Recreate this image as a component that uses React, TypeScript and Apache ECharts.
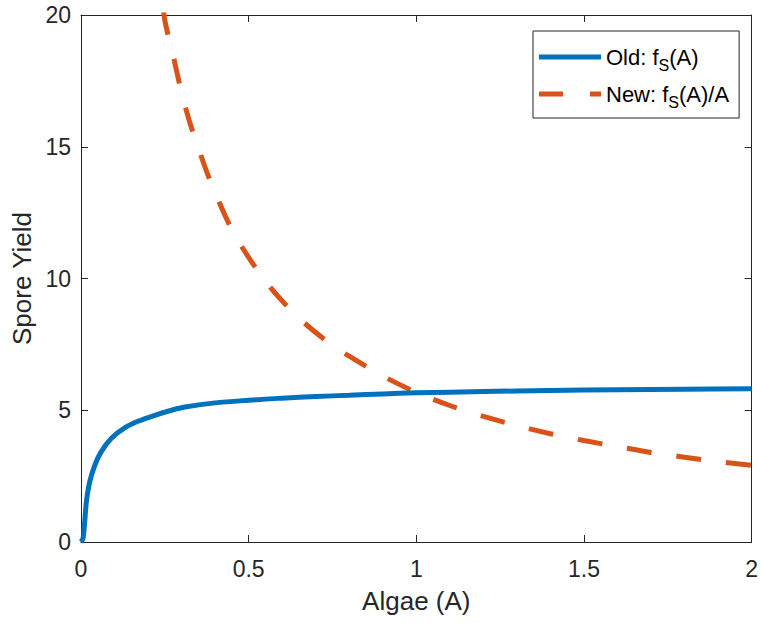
import React, { useEffect, useRef } from "react";
import * as echarts from "echarts";

const xTicks = [0, 0.5, 1, 1.5, 2];
const yTicks = [0, 5, 10, 15, 20];

// Old: f_S(A)
const oldX = [0, 0.006, 0.011, 0.016, 0.026, 0.041, 0.06, 0.09, 0.13, 0.17, 0.22, 0.27, 0.31, 0.4, 0.5, 0.6, 0.7, 0.8, 0.9, 1.0, 1.2, 1.4, 1.6, 1.8, 2.0];
const oldY = [0, 0.13, 0.76, 1.52, 2.28, 2.91, 3.42, 3.93, 4.33, 4.58, 4.81, 5.0, 5.12, 5.28, 5.38, 5.46, 5.52, 5.57, 5.62, 5.66, 5.71, 5.75, 5.78, 5.8, 5.82];

// New: f_S(A)/A
const newX = [0.24, 0.25, 0.275, 0.3, 0.325, 0.35, 0.375, 0.4, 0.45, 0.5, 0.55, 0.6, 0.65, 0.7, 0.75, 0.8, 0.9, 1.0, 1.1, 1.2, 1.3, 1.4, 1.5, 1.6, 1.7, 1.8, 1.9, 2.0];
const newY = [20.9, 19.8, 18.45, 17.05, 15.9, 14.95, 14.05, 13.25, 11.85, 10.8, 9.9, 9.15, 8.5, 7.95, 7.47, 7.05, 6.3, 5.68, 5.18, 4.77, 4.42, 4.11, 3.85, 3.62, 3.4, 3.22, 3.05, 2.91];

const seriesNames = ["Old: fS(A)", "New: fS(A)/A"];
const legendLabels: Record<string, string> = {
  "Old: fS(A)": "Old: f{sub|S}(A)",
  "New: fS(A)/A": "New: f{sub|S}(A)/A",
};

const BLUE = "#0072BD";
const RED = "#D95319";
const FONT = "Liberation Sans, Arial, Helvetica, sans-serif";
const AX = "#262626";

export default function App() {
  const ref = useRef<HTMLDivElement>(null);
  useEffect(() => {
    if (!ref.current) return;
    const chart = echarts.init(ref.current, undefined, { renderer: "svg" });
    const tickCommon = {
      show: true,
      inside: true,
      length: 7,
      lineStyle: { color: AX, width: 1 },
    };
    chart.setOption({
      animation: false,
      backgroundColor: "#fff",
      textStyle: { fontFamily: FONT },
      grid: { left: 81, top: 15, width: 676, height: 527, containLabel: false },
      legend: {
        orient: "vertical",
        left: 533,
        top: 31,
        padding: [15, 10, 8, 6],
        itemGap: 10,
        itemWidth: 62,
        itemHeight: 5,
        backgroundColor: "#fff",
        borderColor: AX,
        borderWidth: 1,
        borderRadius: 0,
        data: [
          { name: seriesNames[0], icon: "path://M0,0h62v5h-62z", itemStyle: { color: BLUE } },
          { name: seriesNames[1], icon: "path://M0,0h24v5h-24z M51,0h11v5h-11z", itemStyle: { color: RED } },
        ],
        formatter: (name: string) => legendLabels[name] || name,
        textStyle: {
          fontSize: 22,
          color: "#000",
          fontFamily: FONT,
          rich: {
            sub: { fontSize: 16, padding: [16, 0, 0, 0], fontFamily: FONT, color: "#000" },
          },
        },
      },
      xAxis: [
        {
          type: "value",
          min: xTicks[0],
          max: xTicks[xTicks.length - 1],
          interval: 0.5,
          name: "Algae (A)",
          nameLocation: "middle",
          nameGap: 46,
          nameTextStyle: { fontSize: 26, color: AX, fontFamily: FONT, verticalAlign: "top" },
          axisLine: { show: true, onZero: false, lineStyle: { color: AX, width: 1 } },
          axisTick: tickCommon,
          axisLabel: { fontSize: 23, color: AX, margin: 15, fontFamily: FONT },
          splitLine: { show: false },
        },
        {
          type: "value",
          position: "top",
          min: xTicks[0],
          max: xTicks[xTicks.length - 1],
          interval: 0.5,
          axisLine: { show: true, onZero: false, lineStyle: { color: AX, width: 1 } },
          axisTick: tickCommon,
          axisLabel: { show: false },
          splitLine: { show: false },
        },
      ],
      yAxis: [
        {
          type: "value",
          min: yTicks[0],
          max: yTicks[yTicks.length - 1],
          interval: 5,
          name: "Spore Yield",
          nameLocation: "middle",
          nameGap: 40,
          nameTextStyle: { fontSize: 26, color: AX, fontFamily: FONT },
          axisLine: { show: true, onZero: false, lineStyle: { color: AX, width: 1 } },
          axisTick: tickCommon,
          axisLabel: { fontSize: 23, color: AX, margin: 10, fontFamily: FONT },
          splitLine: { show: false },
        },
        {
          type: "value",
          position: "right",
          min: yTicks[0],
          max: yTicks[yTicks.length - 1],
          interval: 5,
          axisLine: { show: true, onZero: false, lineStyle: { color: AX, width: 1 } },
          axisTick: tickCommon,
          axisLabel: { show: false },
          splitLine: { show: false },
        },
      ],
      series: [
        {
          name: seriesNames[0],
          type: "line",
          data: oldX.map((x, i) => [x, oldY[i]]),
          showSymbol: false,
          symbol: "none",
          smooth: 0.3,
          clip: true,
          lineStyle: { color: BLUE, width: 5 },
          itemStyle: { color: BLUE },
          z: 3,
        },
        {
          name: seriesNames[1],
          type: "line",
          data: newX.map((x, i) => [x, newY[i]]),
          showSymbol: false,
          symbol: "none",
          smooth: 0.3,
          clip: true,
          lineStyle: { color: RED, width: 5, type: [25, 25], dashOffset: 31 },
          itemStyle: { color: RED },
          z: 2,
        },
      ],
    });
    return () => chart.dispose();
  }, []);
  return (
    <div
      ref={ref}
      style={{ position: "fixed", left: 0, top: 0, width: 761, height: 623, background: "#fff" }}
    />
  );
}
